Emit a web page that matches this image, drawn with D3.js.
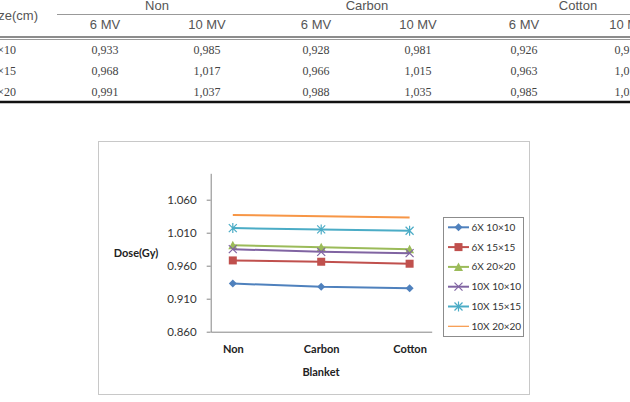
<!DOCTYPE html>
<html>
<head>
<meta charset="utf-8">
<script src="https://cdn.jsdelivr.net/npm/d3@7"></script>
<style>
	body { margin: 0; background: #fff; }
	svg { display: block; }
</style>
</head>
<body>
<svg id="svg-port" width="630" height="402"></svg>
<script>
// data
var blankets = ['Non', 'Carbon', 'Cotton'];
var energies = ['6 MV', '10 MV'];
var fieldSizes = ['10×10', '15×15', '20×20'];
var seriesNames = ['6X 10×10', '6X 15×15', '6X 20×20', '10X 10×10', '10X 15×15', '10X 20×20'];
var dose6x10 = [0.933, 0.928, 0.926];
var dose6x15 = [0.968, 0.966, 0.963];
var dose6x20 = [0.991, 0.988, 0.985];
var dose10x10 = [0.985, 0.981, 0.979];
var dose10x15 = [1.017, 1.015, 1.013];
var dose10x20 = [1.037, 1.035, 1.033];
var yTicks = [0.860, 0.910, 0.960, 1.010, 1.060];

var seriesColors = ['#4F81BD', '#C0504D', '#9BBB59', '#8064A2', '#4BACC6', '#F79646'];
var seriesMarkers = ['diamond', 'square', 'triangle', 'x', 'star', 'none'];
var seriesValues = [dose6x10, dose6x15, dose6x20, dose10x10, dose10x15, dose10x20];

var svg = d3.select('#svg-port');
drawTable();
drawChart();

function fmt(v) {
	return v.toFixed(3).replace('.', ',');
}

function drawTable() {
	var g = svg.append('g').attr('id', 'table');
	var colX = [105, 207, 316, 418, 524, 628];
	var rowY = [50, 71, 92];
	var groupX = [157, 367, 578];

	g.append('text').attr('x', 38).attr('y', 20).attr('text-anchor', 'end')
		.style('font-family', 'Liberation Sans').style('font-size', '13px').style('fill', '#555')
		.text('Size(cm)');

	blankets.forEach(function (b, i) {
		g.append('text').attr('x', groupX[i]).attr('y', 9.5).attr('text-anchor', 'middle')
			.style('font-family', 'Liberation Sans').style('font-size', '13px').style('fill', '#555')
			.text(b);
	});
	g.append('line').attr('x1', 57).attr('x2', 630).attr('y1', 14.5).attr('y2', 14.5)
		.style('stroke', '#999').style('stroke-width', 1);

	colX.forEach(function (x, i) {
		g.append('text').attr('x', x).attr('y', 29).attr('text-anchor', 'middle')
			.style('font-family', 'Liberation Sans').style('font-size', '13px').style('fill', '#555')
			.text(energies[i % 2]);
	});
	g.append('line').attr('x1', 0).attr('x2', 630).attr('y1', 37).attr('y2', 37)
		.style('stroke', '#666').style('stroke-width', 1.5);
	g.append('line').attr('x1', 0).attr('x2', 630).attr('y1', 39.5).attr('y2', 39.5)
		.style('stroke', '#999').style('stroke-width', 1);

	// columns: Non 6, Non 10, Carbon 6, Carbon 10, Cotton 6, Cotton 10
	var columns = [];
	blankets.forEach(function (b, bi) {
		columns.push(seriesValues.slice(0, 3).map(function (s) { return s[bi]; }));
		columns.push(seriesValues.slice(3, 6).map(function (s) { return s[bi]; }));
	});

	fieldSizes.forEach(function (f, ri) {
		g.append('text').attr('x', 16).attr('y', rowY[ri] + 4).attr('text-anchor', 'end')
			.style('font-family', 'Liberation Serif').style('font-size', '12px').style('fill', '#444')
			.text(f);
		columns.forEach(function (col, ci) {
			g.append('text').attr('x', colX[ci]).attr('y', rowY[ri] + 4).attr('text-anchor', 'middle')
				.style('font-family', 'Liberation Serif').style('font-size', '12px').style('fill', '#444')
				.text(fmt(col[ri]));
		});
	});
	g.append('line').attr('x1', 0).attr('x2', 630).attr('y1', 102).attr('y2', 102)
		.style('stroke', '#111').style('stroke-width', 2.5);
}

function marker(sel, type, color) {
	var s = 4;
	if (type === 'diamond') {
		sel.append('path').attr('d', 'M0,' + (-s) + 'L' + s + ',0L0,' + s + 'L' + (-s) + ',0Z').style('fill', color);
	} else if (type === 'square') {
		sel.append('rect').attr('x', -s).attr('y', -s).attr('width', 2 * s).attr('height', 2 * s).style('fill', color);
	} else if (type === 'triangle') {
		sel.append('path').attr('d', 'M0,' + (-s - 0.5) + 'L' + (s + 0.5) + ',' + s + 'L' + (-s - 0.5) + ',' + s + 'Z').style('fill', color);
	} else if (type === 'x') {
		sel.append('path').attr('d', 'M' + (-s) + ',' + (-s) + 'L' + s + ',' + s + 'M' + s + ',' + (-s) + 'L' + (-s) + ',' + s)
			.style('stroke', color).style('stroke-width', 1.2).style('fill', 'none');
	} else if (type === 'star') {
		sel.append('path').attr('d', 'M' + (-s) + ',' + (-s) + 'L' + s + ',' + s + 'M' + s + ',' + (-s) + 'L' + (-s) + ',' + s + 'M0,' + (-s - 1) + 'L0,' + (s + 1))
			.style('stroke', color).style('stroke-width', 1.2).style('fill', 'none');
	}
}

function drawChart() {
	var g = svg.append('g').attr('id', 'chart');
	g.append('rect').attr('x', 98.5).attr('y', 141.5).attr('width', 431).attr('height', 253)
		.style('fill', '#fff').style('stroke', '#c8c8c8').style('stroke-width', 1);

	var xScale = d3.scalePoint().domain(blankets).range([210.7, 431.7]).padding(0.25);
	var yScale = d3.scaleLinear().domain([0.86, 1.10]).range([331.7, 173.3]);

	var yAxis = d3.axisLeft(yScale).tickValues(yTicks).tickFormat(d3.format('.3f')).tickSize(4).tickSizeOuter(0);
	var ya = g.append('g').attr('transform', 'translate(210.7,0)').call(yAxis);
	ya.select('.domain').style('stroke', '#868686');
	ya.selectAll('.tick line').style('stroke', '#868686');
	ya.selectAll('.tick text').attr('x', -14).style('font-family', 'Lato').style('font-size', '11.5px').style('fill', '#333');

	var xAxis = d3.axisBottom(xScale).tickSize(0).tickSizeOuter(0);
	var xa = g.append('g').attr('transform', 'translate(0,331.7)').call(xAxis);
	xa.select('.domain').style('stroke', '#868686');
	xa.selectAll('.tick text').attr('y', 14).style('font-family', 'Lato').style('font-weight', 'bold')
		.style('font-size', '11px').style('fill', '#222');

	g.append('text').attr('x', 136).attr('y', 257).attr('text-anchor', 'middle')
		.style('font-family', 'Lato').style('font-weight', 'bold').style('font-size', '11px').style('fill', '#222')
		.text('Dose(Gy)');
	g.append('text').attr('x', 321).attr('y', 376).attr('text-anchor', 'middle')
		.style('font-family', 'Lato').style('font-weight', 'bold').style('font-size', '11px').style('fill', '#222')
		.text('Blanket');

	var line = d3.line()
		.x(function (d, i) { return xScale(blankets[i]); })
		.y(function (d) { return yScale(d); });

	seriesValues.forEach(function (vals, si) {
		g.append('path').datum(vals).attr('d', line)
			.style('fill', 'none').style('stroke', seriesColors[si]).style('stroke-width', 2);
		vals.forEach(function (v, i) {
			var m = g.append('g').attr('transform', 'translate(' + [xScale(blankets[i]), yScale(v)] + ')');
			marker(m, seriesMarkers[si], seriesColors[si]);
		});
	});

	// legend
	var lg = g.append('g').attr('id', 'legend');
	lg.append('rect').attr('x', 443.5).attr('y', 217.5).attr('width', 80).attr('height', 119)
		.style('fill', '#fff').style('stroke', '#8c8c8c').style('stroke-width', 1);
	seriesNames.forEach(function (name, i) {
		var y = 227.3 + i * 19.8;
		lg.append('line').attr('x1', 448).attr('x2', 469).attr('y1', y).attr('y2', y)
			.style('stroke', seriesColors[i]).style('stroke-width', i === 5 ? 1.2 : 2);
		var m = lg.append('g').attr('transform', 'translate(' + [458.5, y] + ')');
		marker(m, seriesMarkers[i], seriesColors[i]);
		lg.append('text').attr('x', 471.5).attr('y', y + 3.5)
			.style('font-family', 'Lato').style('font-size', '10px').style('fill', '#333')
			.text(name);
	});
}
</script>
</body>
</html>
